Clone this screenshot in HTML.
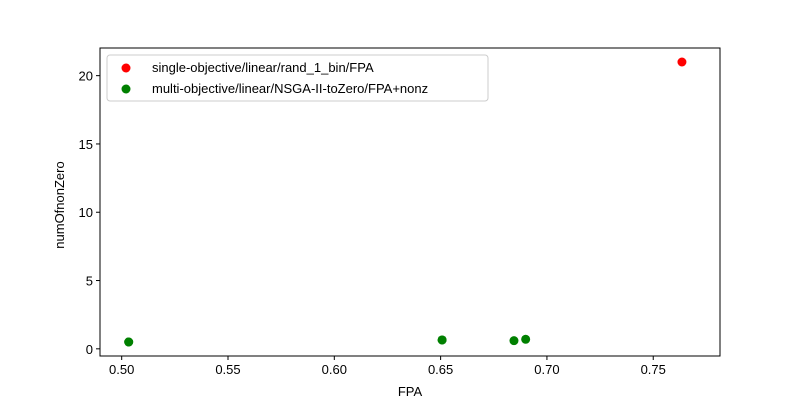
<!DOCTYPE html>
<html><head><meta charset="utf-8"><style>
body{margin:0;background:#fff;}
text{font-family:"Liberation Sans","DejaVu Sans",sans-serif;}
</style></head><body>
<svg id="chart" width="800" height="400" xmlns="http://www.w3.org/2000/svg">
<rect width="800" height="400" fill="#fff"/>
<g id="marks"></g>
<g id="axes"></g>
</svg>
<script>
const xTicks=[0.50,0.55,0.60,0.65,0.70,0.75];
const xTickLabels=["0.50","0.55","0.60","0.65","0.70","0.75"];
const yTicks=[0,5,10,15,20];
const yTickLabels=["0","5","10","15","20"];
const redX=[0.7635];
const redY=[21];
const greenX=[0.5033,0.5033,0.6507,0.6507,0.6845,0.690];
const greenY=[0.5,0.5,0.65,0.65,0.6,0.7];
const L=100,R=720,T=48,B=356;
const xmin=0.4898,xmax=0.7814,ymin=-0.525,ymax=22.025;
const sx=v=>L+(v-xmin)/(xmax-xmin)*(R-L);
const sy=v=>B-(v-ymin)/(ymax-ymin)*(B-T);
const NS="http://www.w3.org/2000/svg";
function mk(tag,attrs,parent){const e=document.createElementNS(NS,tag);for(const k in attrs)e.setAttribute(k,attrs[k]);parent.appendChild(e);return e;}
const marks=document.getElementById('marks'),axes=document.getElementById('axes');
redX.forEach((x,i)=>{const c=mk('circle',{cx:sx(x),cy:sy(redY[i]),r:4.5,fill:'#ff0000'},marks);

});
greenX.forEach((x,i)=>{const c=mk('circle',{cx:sx(x),cy:sy(greenY[i]),r:4.5,fill:'#008000'},marks);

});
const frame=mk('rect',{x:L,y:T,width:R-L,height:B-T,fill:'none',stroke:'#000','stroke-width':1},axes);


xTicks.forEach((v,i)=>{const x=sx(v);mk('line',{x1:x,x2:x,y1:B,y2:B+4,stroke:'#000'},axes);
const t=mk('text',{x:x,y:B+18,'text-anchor':'middle','font-size':13},axes);t.textContent=xTickLabels[i];

});
yTicks.forEach((v,i)=>{const y=sy(v);mk('line',{x1:L-4,x2:L,y1:y,y2:y,stroke:'#000'},axes);
const t=mk('text',{x:L-7,y:y+5,'text-anchor':'end','font-size':13},axes);t.textContent=yTickLabels[i];

});
const xt=mk('text',{x:410,y:396,'text-anchor':'middle','font-size':13},axes);xt.textContent='FPA';


const yt=mk('text',{x:64,y:205,'text-anchor':'middle','font-size':13,transform:'rotate(-90 64 205)'},axes);yt.textContent='numOfnonZero';


const lg=mk('g',{},axes);


mk('rect',{x:107,y:55,width:381,height:46,rx:3,fill:'#fff','fill-opacity':0.8,stroke:'#ccc'},lg);
mk('circle',{cx:126,cy:68,r:4.5,fill:'#ff0000'},lg);
mk('circle',{cx:126,cy:89,r:4.5,fill:'#008000'},lg);
const l1=mk('text',{x:152,y:72,'font-size':13},lg);l1.textContent='single-objective/linear/rand_1_bin/FPA';


const l2=mk('text',{x:152,y:93,'font-size':13},lg);l2.textContent='multi-objective/linear/NSGA-II-toZero/FPA+nonz';


</script>
</body></html>
